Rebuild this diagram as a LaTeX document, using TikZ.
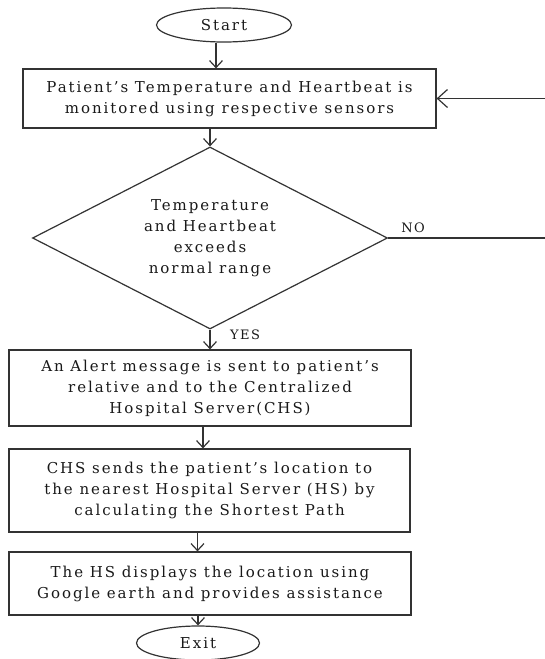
\documentclass[tikz,border=0pt]{standalone}
\usepackage{fontspec}
\setmainfont{DejaVu Serif}
\usetikzlibrary{shapes.geometric,arrows.meta}

\begin{document}
\begin{tikzpicture}[x=1pt,y=-1pt,
    line width=1.2pt,
    flowtext/.style={font=\fontsize{15}{21}\selectfont\addfontfeatures{LetterSpace=13},align=center,text=black!90},
    term/.style={ellipse,draw=black!80,flowtext,inner sep=0pt},
    procbox/.style={rectangle,draw=black!80,flowtext,inner sep=2pt},
    decision/.style={diamond,aspect=1.95,draw=black!80,flowtext,inner sep=0pt},
    branchlabel/.style={font=\fontsize{13}{15}\selectfont\addfontfeatures{LetterSpace=11},text=black!90},
    flow/.style={draw=black!80,->},
    >={Straight Barb[length=7pt,width=13pt]}]

  \path[use as bounding box,clip] (0,0) rectangle (545,659);

  % --- nodes ---
  \node[term,minimum width=135pt,minimum height=34pt] (start) at (224,25) {Start};
  \node[procbox,minimum width=413pt,minimum height=59pt] (monitor) at (229.5,98.5)
       {Patient's Temperature and Heartbeat is\\monitored using respective sensors};
  \node[decision,minimum width=355pt,minimum height=182pt] (check) at (210,238)
       {Temperature\\and Heartbeat\\exceeds\\normal range};
  \node[procbox,minimum width=402pt,minimum height=76pt] (alert) at (210,388)
       {An Alert message is sent to patient's\\relative and to the Centralized\\Hospital Server(CHS)};
  \node[procbox,minimum width=401pt,minimum height=83pt] (route) at (209.5,490.5)
       {CHS sends the patient's location to\\the nearest Hospital Server (HS) by\\calculating the Shortest Path};
  \node[procbox,minimum width=402pt,minimum height=63pt] (display) at (210,583.5)
       {The HS displays the location using\\Google earth and provides assistance};
  \node[term,minimum width=123pt,minimum height=34pt] (exit) at (198,643) {Exit};

  \node[branchlabel] (lblno) at (413,228) {NO};
  \node[branchlabel] (lblyes) at (245,335) {YES};

  % --- loop back ---
  \coordinate (loopbot) at (552,238);
  \coordinate (looptop) at (552,98.5);

  % --- connectors ---
  \draw[flow] ([xshift=-8pt]start.south) -- ([xshift=-8pt]start.south |- monitor.north);
  \draw[flow] (check.north |- monitor.south) -- (check.north);
  \draw[flow] (check.south) -- (check.south |- alert.north);
  \draw[flow] ([xshift=-7pt]alert.south) -- ([xshift=-7pt]alert.south |- route.north);
  \draw[flow] ([xshift=-12pt]route.south) -- ([xshift=-12pt]route.south |- display.north);
  \draw[flow] (exit.north |- display.south) -- (exit.north);
  \draw[draw=black!80] (check.east) -- (loopbot) -- (looptop);
  \draw[flow,>={Straight Barb[length=10pt,width=18pt]}] (looptop) -- (monitor.east);

\end{tikzpicture}
\end{document}
